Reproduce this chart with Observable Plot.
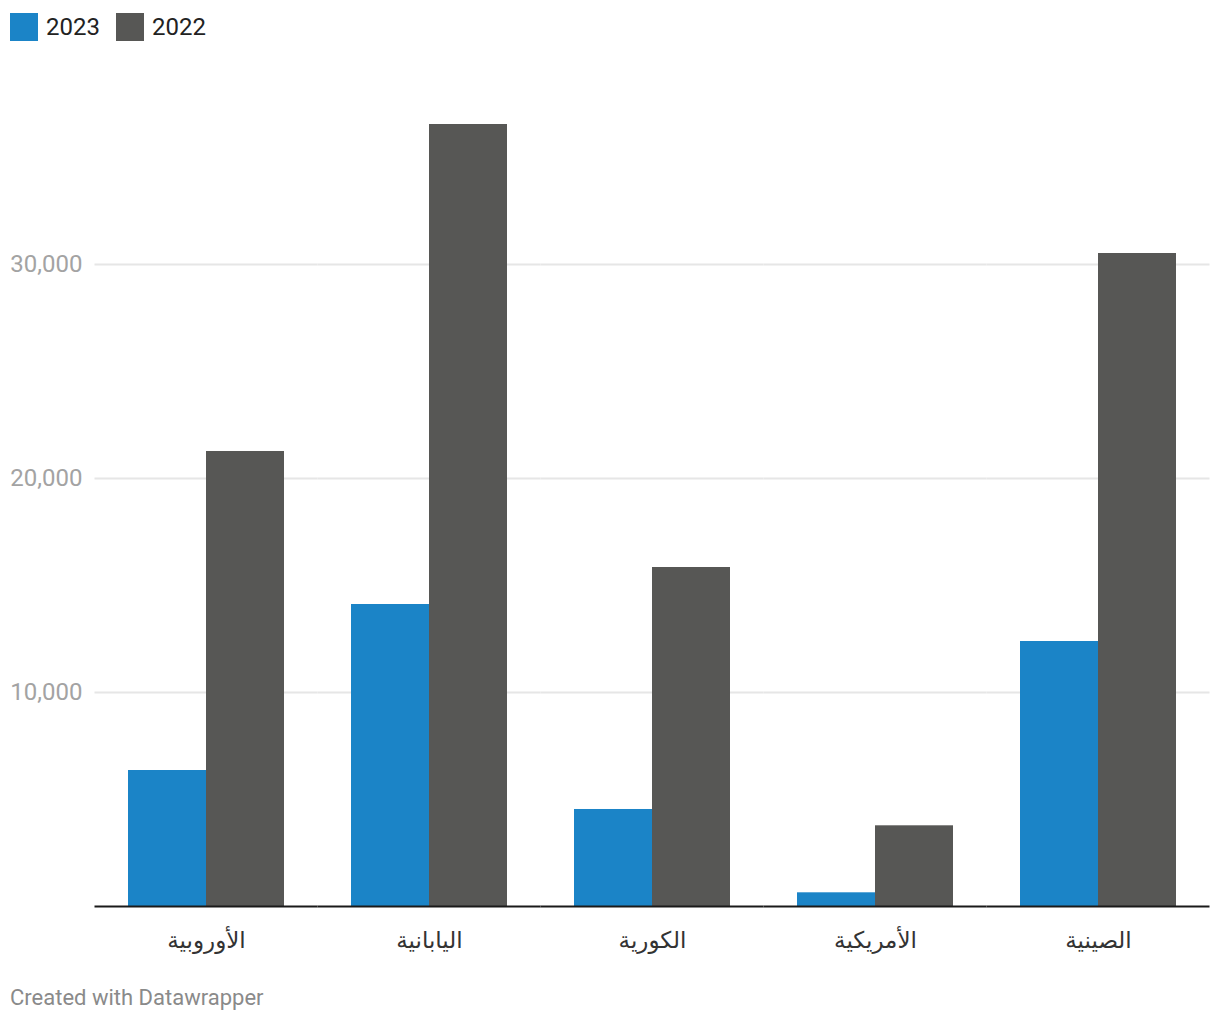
<!DOCTYPE html>
<html>
<head>
<meta charset="utf-8">
<script src="https://cdn.jsdelivr.net/npm/d3@7"></script>
<script src="https://cdn.jsdelivr.net/npm/@observablehq/plot@0.6"></script>
<style>
  html, body { margin: 0; padding: 0; background: #fff; }
  body { width: 1220px; height: 1020px; position: relative; font-family: Roboto, "DejaVu Sans", sans-serif; }
  #legend { height: 44px; box-sizing: border-box; padding: 10px 0 0 10px; display: flex; align-items: center; align-content: flex-start; }
  #legend .item { display: flex; align-items: center; margin-right: 16px; height: 30px; }
  #legend .sw { width: 28px; height: 28px; display: inline-block; margin-right: 8px; }
  #legend .lab { font-size: 24px; color: #222; line-height: 28px; }
  #chart svg { display: block; }
  #chart [aria-label^="y-axis"] text { font-size: 24px; fill: #a3a3a3; font-family: Roboto, sans-serif; }
  #chart [aria-label^="fx-axis"] text { font-size: 23px; fill: #333; font-family: Roboto, "DejaVu Sans", sans-serif; }
  #caption { position: absolute; left: 10px; top: 985px; font-size: 22px; line-height: 26px; color: #8a8a8a; }
</style>
</head>
<body>
<div id="legend"></div>
<div id="chart"></div>
<div id="caption">Created with Datawrapper</div>
<script>
const categories = ["الأوروبية", "اليابانية", "الكورية", "الأمريكية", "الصينية"];
const series = ["2023", "2022"];
const values2023 = [6355, 14112, 4533, 640, 12383];
const values2022 = [21262, 36542, 15841, 3771, 30514];
const yTicks = [10000, 20000, 30000];
const colors = ["#1b84c7", "#575755"];

const data = categories.flatMap((c, i) => [
  {category: c, year: series[0], value: values2023[i]},
  {category: c, year: series[1], value: values2022[i]}
]);

// legend
const legend = document.getElementById("legend");
series.forEach((s, i) => {
  const item = document.createElement("div");
  item.className = "item";
  const sw = document.createElement("span");
  sw.className = "sw";
  sw.style.background = colors[i];
  const lab = document.createElement("span");
  lab.className = "lab";
  lab.textContent = s;
  item.appendChild(sw);
  item.appendChild(lab);
  legend.appendChild(item);
});

const ext = -33.5;
const fmt = d3.format(",");

const chart = Plot.plot({
  width: 1220,
  height: 921,
  marginTop: 6,
  marginBottom: 59,
  marginLeft: 127,
  marginRight: 42,
  style: {background: "transparent", overflow: "visible", fontFamily: "Roboto, 'DejaVu Sans', sans-serif"},
  facet: {data: data, x: "category"},
  fx: {domain: categories, paddingInner: 0.3, paddingOuter: 0, axis: "bottom", label: null, tickSize: 0, tickPadding: 25},
  x: {domain: series, padding: 0, axis: null},
  y: {domain: [0, 40000], ticks: yTicks, tickFormat: fmt, tickSize: 0, tickPadding: 46, label: null, grid: false},
  color: {domain: series, range: colors},
  marks: [
    Plot.ruleY(yTicks, {stroke: "#e6e6e6", strokeWidth: 2, insetLeft: ext, insetRight: ext}),
    Plot.barY(data, {x: "year", y: "value", fill: "year"}),
    Plot.ruleY([0], {stroke: "#1a1a1a", strokeWidth: 2, insetLeft: ext, insetRight: ext})
  ]
});
document.getElementById("chart").appendChild(chart);
</script>
</body>
</html>
